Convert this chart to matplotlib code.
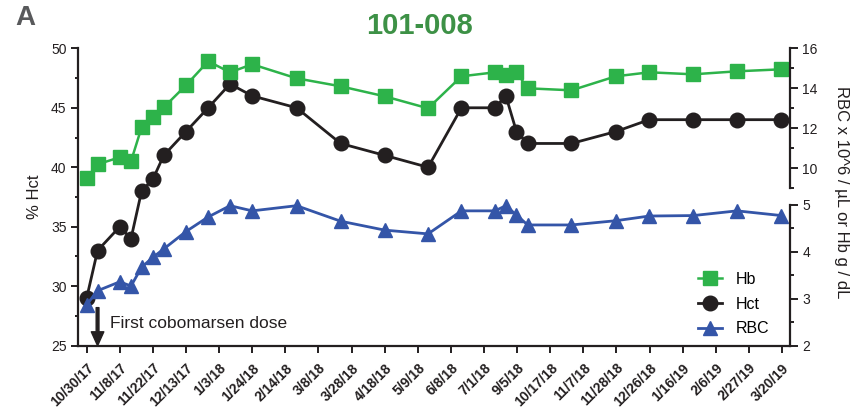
import matplotlib.pyplot as plt
from matplotlib.ticker import MultipleLocator

plt.rcParams['font.family'] = ['Liberation Sans', 'DejaVu Sans']

# date labels on the x axis (one per tick slot)
date_labels = ['10/30/17', '11/8/17', '11/22/17', '12/13/17', '1/3/18', '1/24/18',
               '2/14/18', '3/8/18', '3/28/18', '4/18/18', '5/9/18', '6/8/18',
               '7/1/18', '9/5/18', '10/17/18', '11/7/18', '11/28/18', '12/26/18',
               '1/16/19', '2/6/19', '2/27/19', '3/20/19']

# visit positions along the x axis, in tick units
visit_x = [0, 0.33, 1, 1.34, 1.66, 2, 2.33, 3, 3.67, 4.33, 5, 6.34, 7.67, 9,
           10.31, 11.32, 12.33, 12.66, 12.98, 13.32, 14.64, 15.98, 16.99,
           18.32, 19.64, 20.98]

# % Hct (left axis)
hct = [29, 33, 35, 34, 38, 39, 41, 43, 45, 47, 46, 45, 42, 41, 40, 45, 45, 46,
       43, 42, 42, 43, 44, 44, 44, 44]
# Hb g/dL (right axis, upper part)
hb = [9.5, 10.2, 10.55, 10.35, 12.05, 12.55, 13.05, 14.15, 15.35, 14.8, 15.2,
      14.5, 14.1, 13.6, 13.0, 14.6, 14.8, 14.65, 14.8, 14.0, 13.9, 14.6, 14.8,
      14.7, 14.85, 14.95]
# RBC x 10^6/uL (right axis, lower part)
rbc = [2.87, 3.17, 3.36, 3.27, 3.67, 3.88, 4.06, 4.43, 4.74, 4.98, 4.87, 4.98,
       4.65, 4.46, 4.38, 4.87, 4.87, 4.98, 4.78, 4.57, 4.57, 4.66, 4.76, 4.77,
       4.87, 4.77]

dose_idx = 1  # first cobomarsen dose visit

green = '#2db34a'
black = '#231f20'
blue = '#3455a8'
title_green = '#3d9146'

fig = plt.figure(figsize=(8.51, 4.08), dpi=100)
ax = fig.add_axes([0.0913, 0.1527, 0.837, 0.7289])
ax_hb = ax.twinx()
ax_rbc = ax.twinx()

l_hb, = ax_hb.plot(visit_x, hb, color=green, marker='s', ms=9.5, lw=1.8,
                   mec=green, label='Hb')
l_hct, = ax.plot(visit_x, hct, color=black, marker='o', ms=10.5, lw=2,
                 label='Hct')
l_rbc, = ax_rbc.plot(visit_x, rbc, color=blue, marker='^', ms=10.5, lw=2,
                     label='RBC')

# left axis
ax.set_xlim(-0.27, 21.24)
ax.set_ylim(25, 50)
ax.yaxis.set_major_locator(MultipleLocator(5))
ax.yaxis.set_minor_locator(MultipleLocator(2.5))
ax.set_xticks(range(len(date_labels)))
ax.set_xticklabels(date_labels, rotation=45, ha='right', va='top',
                   rotation_mode='anchor', fontweight='bold', fontsize=10)
ax.spines['top'].set_visible(False)
ax.spines['right'].set_visible(False)
for s in ['left', 'bottom']:
    ax.spines[s].set_linewidth(1.6)
    ax.spines[s].set_color(black)
ax.tick_params(axis='y', which='major', length=5, width=1.4, labelsize=10,
               pad=3, colors=black)
ax.tick_params(axis='y', which='minor', length=2.5, width=1.4, colors=black)
ax.tick_params(axis='x', length=5, width=1.4, pad=6, colors=black)
ax.set_ylabel('% Hct', fontsize=12, color=black)
ax.yaxis.set_label_coords(-0.05, 0.5)

# right axes: broken into an Hb part and an RBC part
ax_hb.set_ylim(1.13, 16)
ax_rbc.set_ylim(2, 8.33)
for a, lo, hi in [(ax_hb, 9, 16), (ax_rbc, 2, 5)]:
    for s in ['left', 'top', 'bottom']:
        a.spines[s].set_visible(False)
    a.spines['right'].set_bounds(lo, hi)
    a.spines['right'].set_linewidth(1.6)
    a.spines['right'].set_color(black)
    a.tick_params(axis='y', which='major', length=6, width=1.4, labelsize=10,
                  pad=3, colors=black)
    a.tick_params(axis='y', which='minor', length=3, width=1.4, colors=black)
ax_hb.set_yticks([10, 12, 14, 16])
ax_hb.set_yticks([9, 11, 13, 15], minor=True)
ax_rbc.set_yticks([2, 3, 4, 5])
ax_rbc.set_yticks([2.5, 3.5, 4.5], minor=True)

# first dose marker
ax.annotate('', xy=(visit_x[dose_idx], 25), xytext=(visit_x[dose_idx], 28.2),
            arrowprops=dict(facecolor=black, edgecolor=black, width=2,
                            headwidth=9, headlength=10, shrink=0))
ax.text(0.7, 26.83, 'First cobomarsen dose', fontsize=12.5, va='center',
        ha='left', color=black)

fig.legend([l_hb, l_hct, l_rbc], ['Hb', 'Hct', 'RBC'], loc='upper left',
           bbox_to_anchor=(698 / 851, 1 - 272 / 408), frameon=False,
           fontsize=11.5, handlelength=1.5, handletextpad=0.85,
           labelspacing=0.6, borderpad=0, borderaxespad=0)

fig.text(420 / 851, 1 - 25.5 / 408, '101-008', ha='center', va='center',
         fontsize=21, fontweight='bold', color=title_green)
fig.text(15 / 851, 1 - 18 / 408, 'A', ha='left', va='center', fontsize=20,
         fontweight='bold', color='#58595b')
fig.text(841 / 851, 1 - 192.5 / 408, 'RBC x 10^6 / µL or Hb g / dL',
         rotation=270, ha='center', va='center', fontsize=12, color=black)

fig.savefig('out.png', dpi=100)
